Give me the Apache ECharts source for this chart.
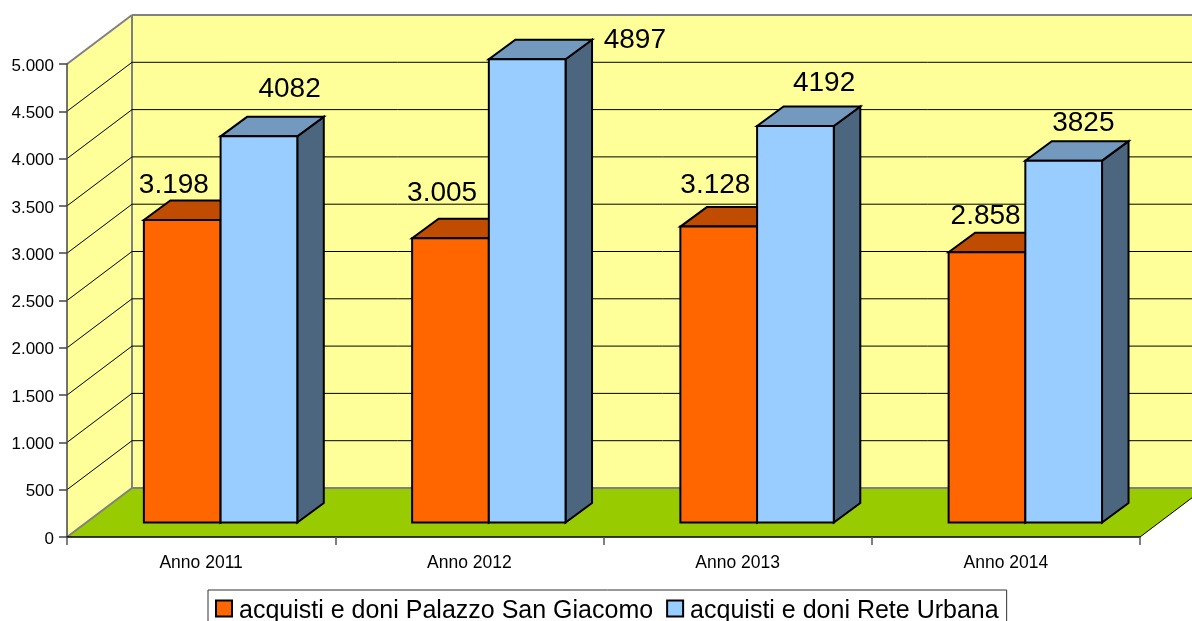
<!DOCTYPE html>
<html>
<head>
<meta charset="utf-8">
<style>html,body{margin:0;padding:0;background:#fff}#c{width:1192px;height:621px}</style>
<script src="https://cdn.jsdelivr.net/npm/echarts@6/dist/echarts.min.js"></script>
</head>
<body>
<div id="c"></div>
<script>
const categories = ['Anno 2011', 'Anno 2012', 'Anno 2013', 'Anno 2014'];
const seriesNames = ['acquisti e doni Palazzo San Giacomo', 'acquisti e doni Rete Urbana'];
const palazzoValues = [3198, 3005, 3128, 2858];
const reteValues = [4082, 4897, 4192, 3825];
const yTicks = [0, 500, 1000, 1500, 2000, 2500, 3000, 3500, 4000, 4500, 5000];

// Style: oblique projection and manually placed label shifts (px)
const DEPTH = [65, -49];
const BAR_LIFT = [20, -14.5];
const BAR_DEPTH = [26.5, -19.5];
const BAR_W = 76.7;
const palazzoLabelShift = [[30, -34.5], [30, -44.5], [35, -41.5], [37, -35.5]];
const reteLabelShift = [[69, -47.5], [146, -18.5], [67, -42.5], [58, -37.5]];

const FONT = '"Liberation Sans", Arial, sans-serif';
const fmt = v => String(v).replace(/\B(?=(\d{3})+$)/g, '.');

function poly(pts, fill, stroke, lw) {
  return { type: 'polygon', shape: { points: pts },
    style: { fill: fill, stroke: stroke || null, lineWidth: lw || 0, lineJoin: 'miter' } };
}
function line(a, b, stroke, lw) {
  return { type: 'line', shape: { x1: a[0], y1: a[1], x2: b[0], y2: b[1] },
    style: { stroke: stroke, lineWidth: lw } };
}

function renderWall(params, api) {
  const v = api.value(0);
  const yFront = api.coord([0, v])[1];
  const rect = params.coordSys;
  const xL = rect.x, xR = rect.x + rect.width;
  const dx = DEPTH[0], dy = DEPTH[1];
  const out = [];
  if (params.dataIndex === 0) {
    const y0 = api.coord([0, yTicks[0]])[1];
    const yT = api.coord([0, yTicks[yTicks.length - 1]])[1];
    out.push(poly([[xL + dx, yT + dy], [xR + dx, yT + dy], [xR + dx, y0 + dy], [xL + dx, y0 + dy]], '#FFFF99'));
    out.push(poly([[xL, yT], [xL + dx, yT + dy], [xL + dx, y0 + dy], [xL, y0]], '#FFFF99'));
    out.push(poly([[xL, y0], [xR, y0], [xR + dx, y0 + dy], [xL + dx, y0 + dy]], '#99CC00'));
    out.push(line([xL + dx, yT + dy], [xR + dx, yT + dy], '#808080', 2));
    out.push(line([xL + dx, yT + dy], [xL + dx, y0 + dy], '#808080', 2));
    out.push(line([xL, yT], [xL + dx, yT + dy], '#808080', 2));
    out.push(line([xL, y0], [xL + dx, y0 + dy], '#808080', 2));
    out.push(line([xL + dx, y0 + dy], [xR + dx, y0 + dy], '#808080', 2));
    out.push(line([xR, y0], [xR + dx, y0 + dy], '#000', 1));
  } else if (params.dataIndex < yTicks.length - 1) {
    out.push(line([xL, yFront], [xL + dx, yFront + dy], '#000', 1));
    out.push(line([xL + dx, yFront + dy], [xR + dx, yFront + dy], '#000', 1));
  }
  return { type: 'group', children: out };
}

function makeBar(offset, fill, topFill, sideFill, shifts, formatter) {
  return function (params, api) {
    const cat = api.value(0), val = api.value(1);
    const c = api.coord([cat, val]);
    const zero = api.coord([cat, 0]);
    const bw = api.size([1, 0])[0];
    const x0 = c[0] + offset * bw + BAR_LIFT[0];
    const x1 = x0 + BAR_W;
    const yT = c[1] + BAR_LIFT[1];
    const yB = zero[1] + BAR_LIFT[1];
    const ddx = BAR_DEPTH[0], ddy = BAR_DEPTH[1];
    const s = shifts[params.dataIndex];
    return { type: 'group', children: [
      poly([[x1, yT], [x1 + ddx, yT + ddy], [x1 + ddx, yB + ddy], [x1, yB]], sideFill, '#000', 2),
      poly([[x0, yT], [x1, yT], [x1 + ddx, yT + ddy], [x0 + ddx, yT + ddy]], topFill, '#000', 2),
      poly([[x0, yT], [x1, yT], [x1, yB], [x0, yB]], fill, '#000', 2),
      { type: 'text', style: { x: x0 + s[0], y: yT + s[1], text: formatter(val),
          fill: '#000', font: '28px ' + FONT, align: 'center', verticalAlign: 'middle' }, z2: 10 }
    ] };
  };
}

const chart = echarts.init(document.getElementById('c'), null, { renderer: 'canvas' });
chart.setOption({
  animation: false,
  backgroundColor: '#fff',
  textStyle: { fontFamily: FONT },
  grid: { left: 67, right: 52, top: 64, height: 473 },
  xAxis: {
    type: 'category', data: categories, boundaryGap: true, z: 5,
    axisLine: { lineStyle: { color: '#000', width: 1.5 } },
    axisTick: { show: true, length: 8, alignWithLabel: false, lineStyle: { color: '#555', width: 1.5 } },
    axisLabel: { fontSize: 17.5, color: '#000', margin: 17, fontFamily: FONT },
    splitLine: { show: false }
  },
  yAxis: {
    type: 'value', min: 0, max: 5000, interval: 500, z: 5,
    axisLine: { show: true, lineStyle: { color: '#444', width: 1.5 } },
    axisTick: { show: true, length: 8, lineStyle: { color: '#444', width: 1.5 } },
    axisLabel: { color: '#000', margin: 13, formatter: v => '{t|' + fmt(v) + '}',
      rich: { t: { fontSize: 17, color: '#000', fontFamily: FONT, padding: [4, 0, 0, 0] } } },
    splitLine: { show: false }
  },
  legend: {
    left: 208, top: 590, orient: 'horizontal', padding: [9, 8, 10, 7], itemGap: 13,
    itemWidth: 16, itemHeight: 16, icon: 'rect',
    backgroundColor: '#fff', borderColor: '#333', borderWidth: 1, borderRadius: 0,
    formatter: name => '{t|' + name + '}',
    textStyle: { rich: { t: { fontSize: 25, color: '#000', fontFamily: FONT, padding: [6, 0, 0, 2] } } },
    data: seriesNames,
    selectedMode: false
  },
  series: [
    { name: 'wall', type: 'custom', z: 1, silent: true, coordinateSystem: 'cartesian2d', clip: false,
      data: yTicks.map(v => [v]), encode: { y: 0 }, renderItem: renderWall },
    { name: seriesNames[0], type: 'custom', z: 3, silent: true, clip: false,
      itemStyle: { color: '#FF6600', borderColor: '#000', borderWidth: 1.5 },
      data: palazzoValues.map((v, i) => [i, v]), encode: { x: 0, y: 1 },
      renderItem: makeBar(-0.288, '#FF6600', '#BF4C00', '#7F3300', palazzoLabelShift, fmt) },
    { name: seriesNames[1], type: 'custom', z: 4, silent: true, clip: false,
      itemStyle: { color: '#99CCFF', borderColor: '#000', borderWidth: 1.5 },
      data: reteValues.map((v, i) => [i, v]), encode: { x: 0, y: 1 },
      renderItem: makeBar(-0.002, '#99CCFF', '#7399BF', '#4D6680', reteLabelShift, String) }
  ]
});
</script>
</body>
</html>
